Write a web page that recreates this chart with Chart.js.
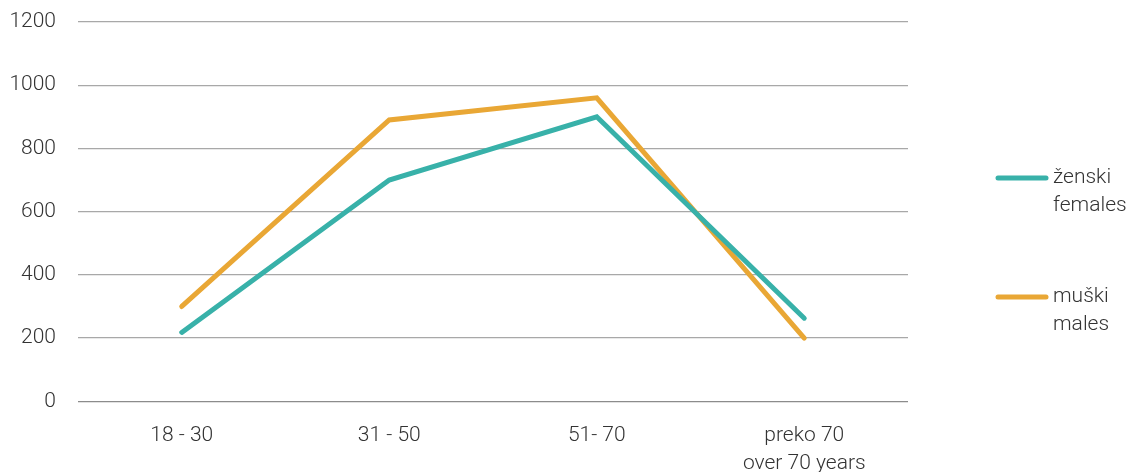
<!DOCTYPE html>
<html>
<head>
  <title>Age groups by gender</title>
  <style>
    html, body {
      margin: 0;
      padding: 0;
      background: #fff;
    }

    #chart-container {
      width: 1131px;
      height: 472px;
    }
  </style>
</head>
<body>
  <div id="chart-container">
    <canvas id="age-chart"></canvas>
  </div>

  <script src="https://cdn.jsdelivr.net/npm/chart.js"></script>
  <script>
    // Categories and series
    const ageGroups = [["18 - 30"], ["31 - 50"], ["51- 70"], ["preko 70", "over 70 years"]];
    const females = [218, 700, 900, 263];
    const males = [300, 890, 960, 200];
    const seriesNames = [["ženski", "females"], ["muški", "males"]];
    const seriesColors = ["#38b1a9", "#e9a735"];

    const fontFamily = "Roboto, 'Open Sans', Arial, sans-serif";
    const labelFont = { family: fontFamily, size: 21, weight: 300, lineHeight: 1.35 };

    // Two-line legend on the right, drawn on the canvas
    const sideLegend = {
      id: "sideLegend",
      afterDraw(chart) {
        const ctx = chart.ctx;
        const area = chart.chartArea;
        const offsets = [156, 275];
        ctx.save();
        chart.data.datasets.forEach((ds, i) => {
          const y = area.top + offsets[i];
          const x0 = area.right + 90;
          ctx.strokeStyle = ds.borderColor;
          ctx.lineWidth = 5;
          ctx.lineCap = "round";
          ctx.beginPath();
          ctx.moveTo(x0, y);
          ctx.lineTo(x0 + 48, y);
          ctx.stroke();
          ctx.fillStyle = "#333";
          ctx.font = "300 21px " + fontFamily;
          ctx.textBaseline = "middle";
          ctx.textAlign = "left";
          seriesNames[i].forEach((line, k) => {
            ctx.fillText(line, x0 + 55, y + k * 28);
          });
        });
        ctx.restore();
      }
    };

    const ctx = document.getElementById("age-chart").getContext("2d");
    new Chart(ctx, {
      type: "line",
      data: {
        labels: ageGroups,
        datasets: [
          {
            label: seriesNames[0].join(" "),
            data: females,
            borderColor: seriesColors[0],
            backgroundColor: seriesColors[0],
            borderWidth: 5,
            borderCapStyle: "round",
            pointRadius: 0,
            tension: 0,
          },
          {
            label: seriesNames[1].join(" "),
            data: males,
            borderColor: seriesColors[1],
            backgroundColor: seriesColors[1],
            borderWidth: 5,
            borderCapStyle: "round",
            pointRadius: 0,
            tension: 0,
          },
        ],
      },
      options: {
        responsive: true,
        maintainAspectRatio: false,
        animation: false,
        layout: {
          padding: { left: 8, right: 223, top: 0, bottom: -18 },
        },
        scales: {
          x: {
            offset: true,
            grid: { display: false },
            border: { display: false },
            ticks: {
              color: "#333",
              font: labelFont,
              padding: 12,
              maxRotation: 0,
            },
          },
          y: {
            min: 0,
            max: 1200,
            border: { display: false },
            grid: {
              color: (c) => (c.tick && c.tick.value === 0 ? "#8c8c8c" : "#a8a8a8"),
              lineWidth: 1.2,
              drawTicks: false,
            },
            ticks: {
              stepSize: 200,
              color: "#333",
              font: labelFont,
              padding: 22,
              callback: (v) => String(v),
            },
            afterFit: (scale) => {
              scale.width = 70;
              scale.paddingTop = 22;
              scale.paddingBottom = 0;
            },
          },
        },
        plugins: {
          legend: { display: false },
          tooltip: { enabled: false },
        },
      },
      plugins: [sideLegend],
    });
  </script>
</body>
</html>
